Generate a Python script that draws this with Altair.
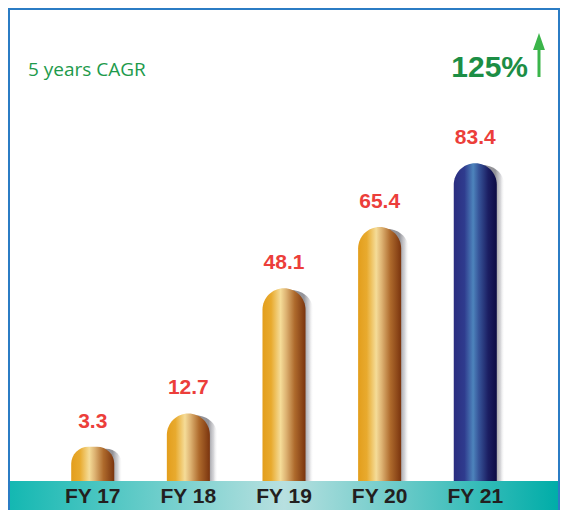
import altair as alt
import pandas as pd

# ---- data ----
CATEGORIES = ["FY 17", "FY 18", "FY 19", "FY 20", "FY 21"]
VALUES = [3.3, 12.7, 48.1, 65.4, 83.4]
IS_LATEST = [False, False, False, False, True]
CAGR_LABEL = "5 years CAGR"
CAGR_VALUE = "125%"

# ---- layout ----
Y_MIN, Y_MAX = -6.4, 126.7
W, H = 548, 471
BAND_H = 29
R = 21.5

df = pd.DataFrame({"cat": CATEGORIES, "value": VALUES, "latest": IS_LATEST})
one = pd.DataFrame({"k": [0]})


def grad(stops):
    return alt.LinearGradient(
        gradient="linear", x1=0, x2=1, y1=0, y2=0,
        stops=[alt.GradientStop(offset=o, color=c) for o, c in stops],
    )


GOLD = grad([(0, "#E39E1C"), (0.2, "#E8AA2E"), (0.42, "#F5DC98"), (0.55, "#DDB272"),
             (0.75, "#AE6A2C"), (1, "#7A340E")])
NAVY = grad([(0, "#2A2D80"), (0.25, "#2F3C8E"), (0.45, "#4D84BC"), (0.58, "#37559A"),
             (0.8, "#1B1E62"), (1, "#0C0B44")])
SHADOW = grad([(0, "rgba(60,60,70,0.6)"), (0.78, "rgba(60,60,70,0.55)"),
               (0.9, "rgba(120,120,130,0.3)"), (1, "rgba(255,255,255,0)")])
TEAL = grad([(0, "#14B8B2"), (0.5, "#B8E0E0"), (1, "#00ADA8")])

x = alt.X("cat:N", sort=CATEGORIES, axis=None,
          scale=alt.Scale(paddingInner=0.55, paddingOuter=0.64))
y = alt.Y("value:Q", axis=None,
          scale=alt.Scale(domain=[Y_MIN, Y_MAX], zero=False, nice=False))

bars_base = alt.Chart(df).encode(x=x, y=y, y2=alt.datum(Y_MIN))

shadow = bars_base.mark_bar(color=SHADOW, xOffset=8, yOffset=2,
                            cornerRadiusTopLeft=R, cornerRadiusTopRight=R)
gold = bars_base.transform_filter("!datum.latest").mark_bar(
    color=GOLD, cornerRadiusTopLeft=R, cornerRadiusTopRight=R)
navy = bars_base.transform_filter("datum.latest").mark_bar(
    color=NAVY, cornerRadiusTopLeft=R, cornerRadiusTopRight=R)

value_labels = alt.Chart(df).mark_text(
    dy=-25, fontSize=21, fontWeight="bold", font="Liberation Sans",
    color="#EC3E3A", baseline="middle",
).encode(x=x, y=y, text=alt.Text("value:Q", format=".1f"))

band = alt.Chart(one).mark_rect(color=TEAL).encode(
    x=alt.value(0), x2=alt.value(W), y=alt.value(H), y2=alt.value(H + BAND_H + 4))

cat_labels = alt.Chart(df).mark_text(
    fontSize=21, fontWeight="bold", font="Liberation Sans", color="#231F20",
    baseline="middle",
).encode(x=x, y=alt.value(H + 16), text="cat:N")

border = alt.Chart(one).mark_rect(fillOpacity=0, stroke="#2B7CC4", strokeWidth=2).encode(
    x=alt.value(-1), x2=alt.value(W + 1), y=alt.value(-1), y2=alt.value(H + BAND_H + 10))

cagr_label = alt.Chart(one).mark_text(
    font="Open Sans", fontSize=19, color="#1D9A4B", align="left", baseline="middle",
).encode(x=alt.value(18), y=alt.value(60), text=alt.value(CAGR_LABEL))

cagr_value = alt.Chart(one).mark_text(
    font="Liberation Sans", fontSize=30, fontWeight="bold", color="#1C8E45",
    align="right", baseline="middle",
).encode(x=alt.value(518), y=alt.value(58), text=alt.value(CAGR_VALUE))

arrow_shaft = alt.Chart(one).mark_rule(color="#3BB54A", strokeWidth=3).encode(
    x=alt.value(529), y=alt.value(38), y2=alt.value(67))
arrow_head = alt.Chart(one).mark_point(
    shape="M0,-1L-0.7,1L0.7,1Z", filled=True, size=289, color="#3BB54A", opacity=1,
).encode(x=alt.value(529), y=alt.value(31.5))

chart = alt.layer(
    shadow, gold, navy, value_labels, band, cat_labels, border,
    cagr_label, cagr_value, arrow_shaft, arrow_head,
).properties(
    width=W, height=H,
    padding={"left": 2, "top": 2, "right": 2, "bottom": BAND_H},
    autosize="none", background="white",
).configure_view(strokeWidth=0)

chart.save("out.html", embed_options={"renderer": "svg", "actions": False})
